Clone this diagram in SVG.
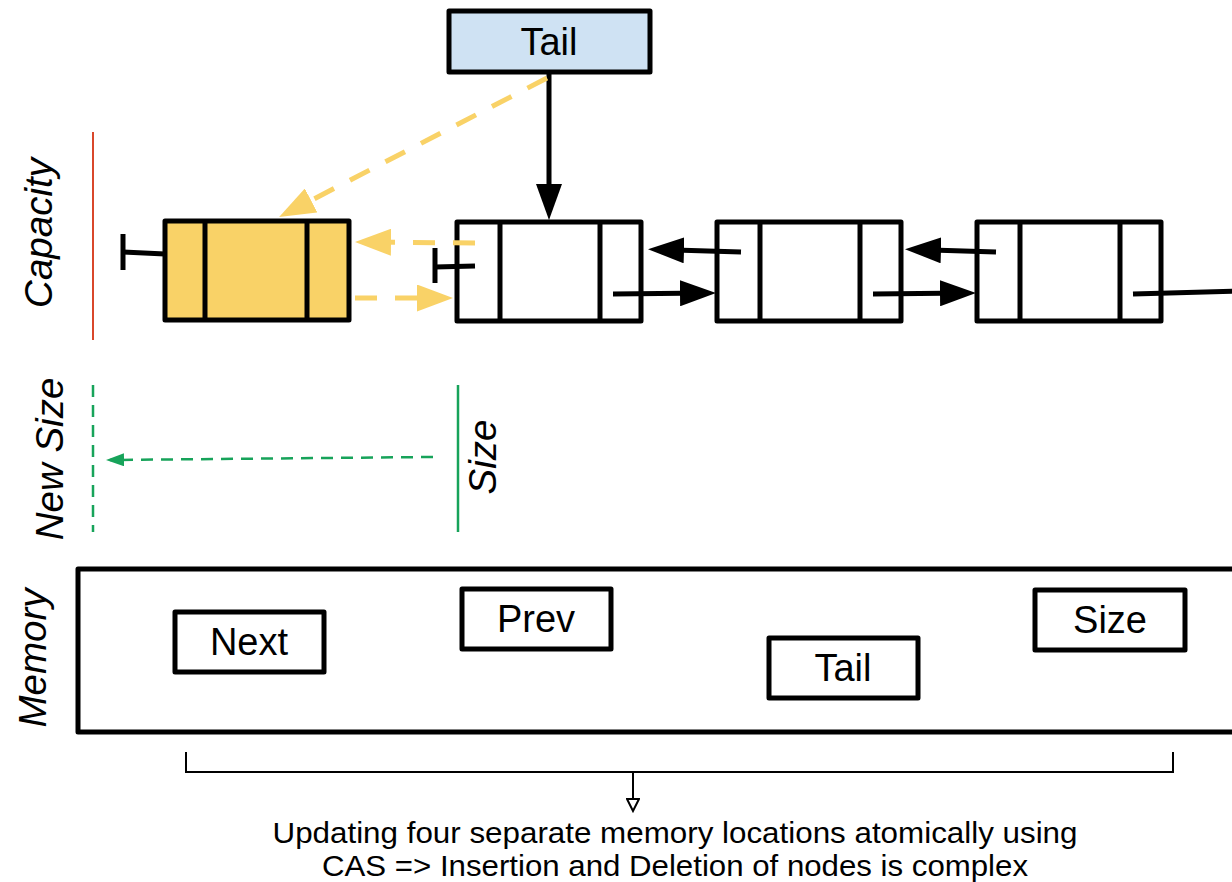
<svg xmlns="http://www.w3.org/2000/svg" width="1232" height="882" viewBox="0 0 1232 882">
<defs>
<style>
.box{fill:#fff;stroke:#000;stroke-width:5;stroke-linejoin:round}
.ln{stroke:#000;stroke-width:5;fill:none}
.lbl{font-family:"Liberation Sans",Arial,sans-serif;font-size:38px;fill:#000;text-anchor:middle}
.side{font-family:"Liberation Sans",Arial,sans-serif;font-size:38.5px;font-style:italic;fill:#000;text-anchor:middle}
.ydash{stroke:#f9d267;stroke-width:5;fill:none;stroke-dasharray:22 18}
.blk{stroke:#000;stroke-width:5;fill:none}
.gdash{stroke:#17a35a;stroke-width:2.5;fill:none;stroke-dasharray:12 8}
.cap{font-family:"Liberation Sans",Arial,sans-serif;font-size:29px;fill:#000;text-anchor:middle}
</style>
<marker id="ahB" markerUnits="userSpaceOnUse" markerWidth="36" markerHeight="26" viewBox="0 0 36 26" refX="26" refY="13" orient="auto"><path d="M0,0 L36,13 L0,26 Z" fill="#000"/></marker>
<marker id="ahY" markerUnits="userSpaceOnUse" markerWidth="36" markerHeight="27" viewBox="0 0 36 27" refX="26" refY="13.5" orient="auto"><path d="M0,0 L36,13.5 L0,27 Z" fill="#f9d267"/></marker>
<marker id="ahG" markerUnits="userSpaceOnUse" markerWidth="18" markerHeight="13" viewBox="0 0 18 13" refX="14" refY="6.5" orient="auto"><path d="M0,0 L18,6.5 L0,13 Z" fill="#17a35a"/></marker>
<marker id="ahO" markerUnits="userSpaceOnUse" markerWidth="16" markerHeight="14" viewBox="0 0 16 14" refX="2" refY="7" orient="auto"><path d="M2,1 L14,7 L2,13 Z" fill="#fff" stroke="#000" stroke-width="2"/></marker>
</defs>
<rect width="1232" height="882" fill="#fff"/>

<!-- side labels -->
<g id="labels">
<line x1="93" y1="132" x2="93" y2="340" stroke="#d9472b" stroke-width="2"/>
<text class="side" transform="translate(52,233) rotate(-90)">Capacity</text>
<line x1="93" y1="385" x2="93" y2="532" class="gdash"/>
<text class="side" transform="translate(63,459) rotate(-90)">New Size</text>
<line x1="458" y1="385" x2="458" y2="532" stroke="#17a35a" stroke-width="2.5"/>
<text class="side" transform="translate(496,457) rotate(-90)">Size</text>
<text class="side" transform="translate(46,658) rotate(-90)">Memory</text>
</g>

<g id="tail-top">
<rect x="449" y="11" width="201" height="61" fill="#cfe2f3" stroke="#000" stroke-width="5" stroke-linejoin="round"/>
<text class="lbl" x="549" y="55">Tail</text>
</g>

<g id="node-new">
<rect x="165" y="221" width="184" height="99" fill="#f9d267" stroke="#000" stroke-width="5" stroke-linejoin="round"/>
<line class="ln" x1="205" y1="221" x2="205" y2="320"/>
<line class="ln" x1="307" y1="221" x2="307" y2="320"/>
<line class="ln" x1="123" y1="234" x2="123" y2="270"/>
<line class="ln" x1="123" y1="252" x2="165" y2="254"/>
</g>

<g id="node-1">
<rect class="box" x="457" y="222" width="184" height="99"/>
<line class="ln" x1="500" y1="222" x2="500" y2="321"/>
<line class="ln" x1="600" y1="222" x2="600" y2="321"/>
<line class="ln" x1="435" y1="248" x2="435" y2="283"/>
<line class="ln" x1="435" y1="267" x2="475" y2="266"/>
</g>

<g id="node-2">
<rect class="box" x="717" y="222" width="184" height="99"/>
<line class="ln" x1="760" y1="222" x2="760" y2="321"/>
<line class="ln" x1="860" y1="222" x2="860" y2="321"/>
</g>

<g id="node-3">
<rect class="box" x="977" y="222" width="184" height="99"/>
<line class="ln" x1="1020" y1="222" x2="1020" y2="321"/>
<line class="ln" x1="1120" y1="222" x2="1120" y2="321"/>
</g>

<g id="connectors">
<line class="blk" x1="549" y1="72" x2="549" y2="210" marker-end="url(#ahB)"/>
<line class="ydash" x1="547" y1="78" x2="288" y2="212.4" marker-end="url(#ahY)"/>
<line class="ydash" x1="475" y1="243" x2="365" y2="242" marker-end="url(#ahY)"/>
<line class="ydash" x1="355" y1="298" x2="443" y2="298" marker-end="url(#ahY)"/>
<line class="blk" x1="741" y1="252" x2="658" y2="249.5" marker-end="url(#ahB)"/>
<line class="blk" x1="613" y1="294" x2="706" y2="293" marker-end="url(#ahB)"/>
<line class="blk" x1="996" y1="252" x2="915" y2="249.5" marker-end="url(#ahB)"/>
<line class="blk" x1="873" y1="294" x2="966" y2="293" marker-end="url(#ahB)"/>
<line class="blk" x1="1133" y1="294" x2="1240" y2="291"/>
<line class="gdash" x1="433" y1="457" x2="110" y2="460" marker-end="url(#ahG)"/>
<path d="M186,752 V772 H1173 V752" fill="none" stroke="#000" stroke-width="2"/>
<line x1="633" y1="772" x2="633" y2="799" stroke="#000" stroke-width="2" marker-end="url(#ahO)"/>
</g>

<g id="memory">
<rect x="78" y="569" width="1170" height="163" fill="#fff" stroke="#000" stroke-width="5" stroke-linejoin="round"/>
</g>
<g id="mem-next">
<rect class="box" x="175" y="612" width="149" height="60"/>
<text class="lbl" x="249" y="655">Next</text>
</g>
<g id="mem-prev">
<rect class="box" x="462" y="589" width="149" height="60"/>
<text class="lbl" x="536" y="632">Prev</text>
</g>
<g id="mem-tail">
<rect class="box" x="769" y="638" width="149" height="60"/>
<text class="lbl" x="843" y="681">Tail</text>
</g>
<g id="mem-size">
<rect class="box" x="1035" y="590" width="150" height="60"/>
<text class="lbl" x="1110" y="633">Size</text>
</g>

<g id="caption">
<text class="cap" x="675" y="843" textLength="805" lengthAdjust="spacingAndGlyphs">Updating four separate memory locations atomically using</text>
<text class="cap" x="675" y="876" textLength="706" lengthAdjust="spacingAndGlyphs">CAS =&gt; Insertion and Deletion of nodes is complex</text>
</g>
</svg>
